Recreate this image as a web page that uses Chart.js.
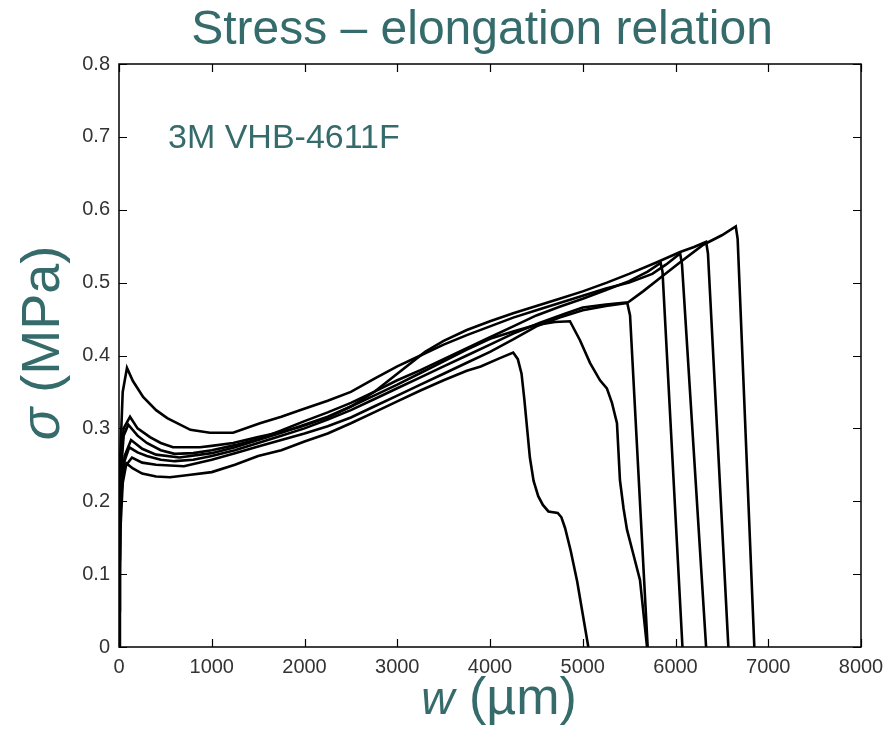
<!DOCTYPE html>
<html>
<head>
<meta charset="utf-8">
<script src="https://cdn.jsdelivr.net/npm/chart.js@4.4.0/dist/chart.umd.min.js"></script>
<style>
  html, body { margin: 0; padding: 0; background: #ffffff; }
  #wrap { width: 893px; height: 748px; }
</style>
</head>
<body>
<div id="wrap"><canvas id="c" width="893" height="748"></canvas></div>
<script>
// ---- Data (w in µm, sigma in MPa) ----
const titleText = "Stress \u2013 elongation relation";
const noteText = "3M VHB-4611F";
const xTickValues = [0, 1000, 2000, 3000, 4000, 5000, 6000, 7000, 8000];
const yTickValues = [0, 0.1, 0.2, 0.3, 0.4, 0.5, 0.6, 0.7, 0.8];

const wA = [0, 15, 40, 80, 150, 250, 400, 550, 750, 1000, 1250, 1500, 1750, 2000, 2250, 2500, 2750, 3000, 3250, 3500, 3750, 3900, 4100, 4250, 4300, 4340, 4370, 4400, 4430, 4470, 4520, 4570, 4630, 4730, 4770, 4810, 4870, 4940, 5000, 5060];
const sA = [0.03, 0.16, 0.225, 0.252, 0.245, 0.238, 0.234, 0.233, 0.236, 0.240, 0.250, 0.262, 0.270, 0.282, 0.293, 0.307, 0.322, 0.337, 0.352, 0.366, 0.379, 0.385, 0.396, 0.404, 0.395, 0.375, 0.340, 0.300, 0.260, 0.228, 0.207, 0.195, 0.186, 0.184, 0.178, 0.163, 0.132, 0.090, 0.045, 0];

const wB = [0, 20, 60, 130, 250, 400, 650, 1000, 1250, 1500, 1750, 2000, 2250, 2500, 2750, 3000, 3250, 3500, 3750, 4000, 4250, 4500, 4700, 4862, 4970, 5078, 5186, 5260, 5315, 5369, 5401, 5440, 5477, 5542, 5617, 5693];
const sB = [0.07, 0.20, 0.262, 0.284, 0.272, 0.264, 0.260, 0.266, 0.274, 0.284, 0.294, 0.305, 0.316, 0.330, 0.345, 0.360, 0.376, 0.392, 0.408, 0.423, 0.433, 0.442, 0.446, 0.447, 0.421, 0.390, 0.366, 0.355, 0.335, 0.307, 0.229, 0.190, 0.161, 0.129, 0.092, 0];

const wC = [0, 10, 50, 140, 250, 400, 700, 1000, 1250, 1500, 1750, 2000, 2250, 2500, 2750, 3000, 3250, 3500, 3750, 4000, 4250, 4500, 4750, 5000, 5250, 5480, 5510, 5700];
const sC = [0.12, 0.20, 0.245, 0.260, 0.253, 0.250, 0.248, 0.257, 0.266, 0.275, 0.284, 0.293, 0.303, 0.315, 0.330, 0.345, 0.360, 0.375, 0.390, 0.405, 0.422, 0.440, 0.452, 0.462, 0.468, 0.472, 0.455, 0];

const wD = [0, 20, 50, 100, 200, 300, 450, 600, 800, 1000, 1250, 1500, 1750, 2000, 2250, 2500, 2750, 3000, 3250, 3500, 3750, 4000, 4250, 4500, 4750, 5000, 5250, 5500, 5700, 5840, 5860, 6075];
const sD = [0.15, 0.24, 0.29, 0.305, 0.290, 0.280, 0.270, 0.265, 0.266, 0.270, 0.277, 0.285, 0.297, 0.310, 0.322, 0.335, 0.350, 0.366, 0.380, 0.395, 0.410, 0.425, 0.440, 0.455, 0.467, 0.478, 0.490, 0.502, 0.515, 0.527, 0.515, 0];

const wE = [0, 10, 40, 86, 150, 260, 400, 520, 770, 980, 1230, 1520, 1750, 1950, 2250, 2500, 2750, 3000, 3250, 3500, 3750, 4000, 4250, 4500, 4750, 5000, 5250, 5500, 5750, 5900, 6050, 6070, 6330];
const sE = [0.05, 0.25, 0.35, 0.383, 0.365, 0.343, 0.325, 0.314, 0.298, 0.294, 0.294, 0.307, 0.316, 0.325, 0.338, 0.350, 0.368, 0.385, 0.400, 0.415, 0.428, 0.440, 0.452, 0.462, 0.472, 0.482, 0.492, 0.500, 0.512, 0.525, 0.540, 0.525, 0];

const wF = [0, 15, 50, 119, 200, 334, 450, 582, 873, 1000, 1230, 1500, 1750, 1950, 2250, 2500, 2750, 3000, 3300, 3500, 3750, 4000, 4250, 4500, 4750, 5000, 5260, 5500, 5800, 6050, 6200, 6330, 6350, 6570];
const sF = [0.10, 0.24, 0.30, 0.316, 0.300, 0.288, 0.280, 0.274, 0.274, 0.276, 0.280, 0.288, 0.295, 0.302, 0.315, 0.330, 0.350, 0.375, 0.405, 0.420, 0.435, 0.447, 0.458, 0.468, 0.478, 0.488, 0.500, 0.512, 0.528, 0.542, 0.549, 0.556, 0.540, 0];

const wG = [0, 10, 45, 110, 200, 300, 450, 600, 800, 1000, 1250, 1500, 1750, 2000, 2250, 2500, 2750, 3000, 3250, 3500, 3750, 4000, 4250, 4540, 4800, 5000, 5250, 5490, 5650, 5830, 6050, 6300, 6500, 6650, 6670, 6850];
const sG = [0.0, 0.18, 0.25, 0.274, 0.267, 0.262, 0.257, 0.255, 0.257, 0.262, 0.270, 0.280, 0.290, 0.300, 0.312, 0.325, 0.340, 0.355, 0.370, 0.385, 0.400, 0.415, 0.430, 0.445, 0.457, 0.466, 0.470, 0.473, 0.488, 0.506, 0.528, 0.552, 0.565, 0.577, 0.560, 0];

const specimens = [[wA, sA], [wB, sB], [wC, sC], [wD, sD], [wE, sE], [wF, sF], [wG, sG]];

// ---- Styles ----
const TEAL = '#356b6b';
const FONT = '"Liberation Sans", Arial, Helvetica, sans-serif';

const datasets = specimens.map(([w, s]) => ({
  data: w.map((x, i) => ({ x: x, y: s[i] })),
  showLine: true,
  borderColor: '#000000',
  borderWidth: 2.6,
  pointRadius: 0,
  tension: 0,
  fill: false
}));

function drawMixed(ctx, parts, cx, y) {
  let total = 0;
  parts.forEach(p => { ctx.font = p.font; p.w = ctx.measureText(p.t).width; total += p.w; });
  let x = cx - total / 2;
  ctx.textAlign = 'left';
  parts.forEach(p => { ctx.font = p.font; ctx.fillText(p.t, x, y); x += p.w; });
}

const framePlugin = {
  id: 'framePlugin',
  afterDraw(chart) {
    const ctx = chart.ctx;
    const a = chart.chartArea;
    const xs = chart.scales.x, ys = chart.scales.y;
    ctx.save();
    ctx.strokeStyle = '#000';
    ctx.lineWidth = 1.5;
    ctx.strokeRect(a.left, a.top, a.right - a.left, a.bottom - a.top);
    ctx.lineWidth = 1.2;
    const tl = 8;
    ctx.beginPath();
    xTickValues.forEach(v => {
      const px = Math.round(xs.getPixelForValue(v)) + 0.5;
      ctx.moveTo(px, a.bottom); ctx.lineTo(px, a.bottom - tl);
      ctx.moveTo(px, a.top); ctx.lineTo(px, a.top + tl);
    });
    yTickValues.forEach(v => {
      const py = Math.round(ys.getPixelForValue(v)) + 0.5;
      ctx.moveTo(a.left, py); ctx.lineTo(a.left + tl, py);
      ctx.moveTo(a.right, py); ctx.lineTo(a.right - tl, py);
    });
    ctx.stroke();

    // Texts
    ctx.fillStyle = TEAL;
    ctx.textBaseline = 'alphabetic';
    ctx.font = '48px ' + FONT;
    ctx.textAlign = 'center';
    ctx.fillText(titleText, 482, 44);
    ctx.font = '34px ' + FONT;
    ctx.textAlign = 'left';
    ctx.fillText(noteText, 168, 148);
    // x-axis title
    drawMixed(ctx, [
      { t: 'w', font: 'italic 46px ' + FONT },
      { t: ' (\u00b5m)', font: '52px ' + FONT }
    ], 499, 714);
    // y-axis title
    ctx.save();
    ctx.translate(59, 343);
    ctx.rotate(-Math.PI / 2);
    drawMixed(ctx, [
      { t: '\u03c3', font: 'italic 54px ' + FONT },
      { t: ' (MPa)', font: '54px ' + FONT }
    ], 0, 0);
    ctx.restore();
    ctx.restore();
  }
};

new Chart(document.getElementById('c'), {
  type: 'scatter',
  data: { datasets: datasets },
  options: {
    responsive: false,
    animation: false,
    events: [],
    layout: { padding: { left: 0, top: 64, right: 32, bottom: 0 } },
    plugins: { legend: { display: false }, tooltip: { enabled: false }, title: { display: false } },
    scales: {
      x: {
        type: 'linear', min: 0, max: 8000,
        afterBuildTicks: (s) => { s.ticks = xTickValues.map(v => ({ value: v })); },
        afterFit: (s) => { s.height = 101; },
        grid: { display: false, drawTicks: false },
        border: { display: false },
        ticks: {
          padding: 8, color: '#333', maxRotation: 0, minRotation: 0, autoSkip: false,
          font: { family: FONT, size: 20 },
          callback: (v) => String(v)
        }
      },
      y: {
        type: 'linear', min: 0, max: 0.8,
        afterBuildTicks: (s) => { s.ticks = yTickValues.map(v => ({ value: v })); },
        afterFit: (s) => { s.width = 119; },
        grid: { display: false, drawTicks: false },
        border: { display: false },
        ticks: {
          padding: 9, color: '#333', autoSkip: false,
          font: { family: FONT, size: 20 },
          callback: (v) => (v === 0 ? '0' : Number(v).toFixed(1))
        }
      }
    }
  },
  plugins: [framePlugin]
});
</script>
</body>
</html>
